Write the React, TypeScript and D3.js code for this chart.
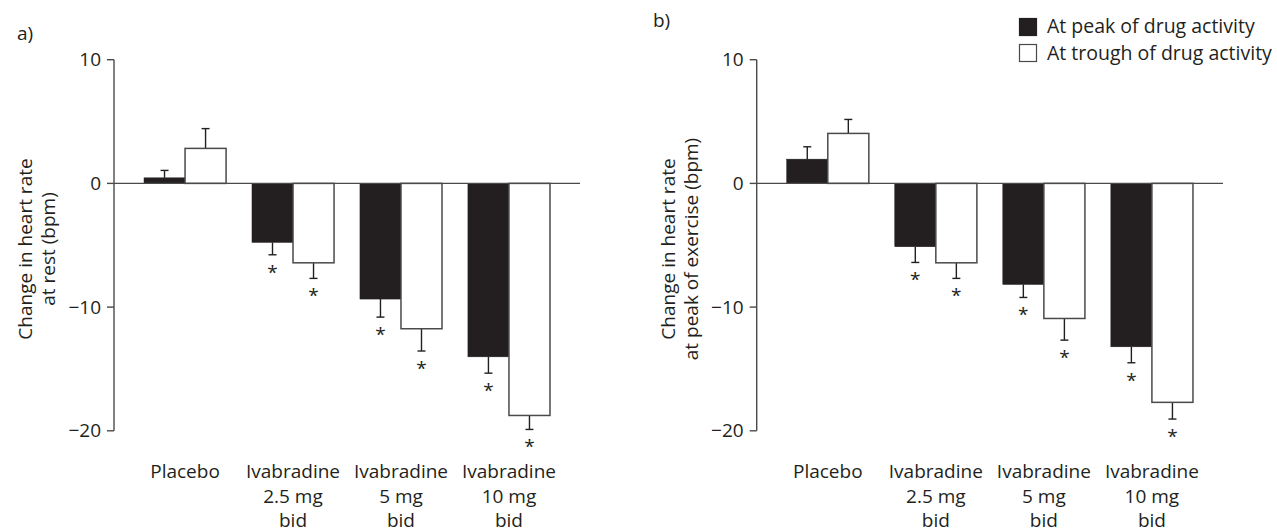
import React from "react";
import * as d3 from "d3";

const categories = ["Placebo", "Iva 2.5", "Iva 5", "Iva 10"];
const categoryLabels = [
  ["Placebo"],
  ["Ivabradine", "2.5 mg", "bid"],
  ["Ivabradine", "5 mg", "bid"],
  ["Ivabradine", "10 mg", "bid"],
];
const seriesNames = ["At peak of drug activity", "At trough of drug activity"];

// Panel a: change in heart rate at rest
const restPeak = [0.45, -4.77, -9.35, -14.02];
const restPeakErr = [0.6, 1.0, 1.46, 1.32];
const restTrough = [2.83, -6.42, -11.75, -18.76];
const restTroughErr = [1.6, 1.26, 1.8, 1.13];

// Panel b: change in heart rate at peak of exercise
const exPeak = [1.96, -5.12, -8.17, -13.21];
const exPeakErr = [1.0, 1.27, 1.05, 1.29];
const exTrough = [4.04, -6.42, -10.92, -17.7];
const exTroughErr = [1.13, 1.26, 1.75, 1.35];

const significant = [false, true, true, true];
const yTicks = [10, 0, -10, -20];

const FONT = "'Open Sans', sans-serif";
const INK = "#231f20";
const AXIS = "#4a4a4a";

const y = d3.scaleLinear().domain([-20, 10]).range([430.8, 59.7]);

function fmt(v: number) {
  return v < 0 ? "\u2212" + Math.abs(v) : String(v);
}

type PanelProps = {
  axisX: number;
  endX: number;
  letter: string;
  letterX: number;
  letterY: number;
  title: string[];
  peak: number[];
  peakErr: number[];
  trough: number[];
  troughErr: number[];
};

function Panel(p: PanelProps) {
  const x = d3
    .scaleBand<string>()
    .domain(categories)
    .range([p.axisX, p.endX])
    .paddingInner(0.24)
    .paddingOuter(0.278);
  const sub = d3
    .scaleBand<number>()
    .domain([0, 1])
    .range([0, x.bandwidth()]);
  const series = [
    { vals: p.peak, errs: p.peakErr, fill: INK },
    { vals: p.trough, errs: p.troughErr, fill: "#fff" },
  ];
  const y0 = y(0);
  const titleCY = 249;
  return (
    <g>
      <text x={p.letterX} y={p.letterY} fontFamily={FONT} fontSize={19} fill={INK}>
        {p.letter}
      </text>
      {/* y axis title */}
      <text
        transform={`translate(${p.axisX - 82},${titleCY}) rotate(-90)`}
        textAnchor="middle"
        fontFamily={FONT}
        fontSize={19}
        fill={INK}
      >
        <tspan x={0} dy={0}>{p.title[0]}</tspan>
        <tspan x={0} dy={23}>{p.title[1]}</tspan>
      </text>
      {/* y axis */}
      <line x1={p.axisX} x2={p.axisX} y1={y(10)} y2={y(-20)} stroke={AXIS} strokeWidth={1.4} />
      {yTicks.map((t) => (
        <g key={t}>
          <line x1={p.axisX - 7} x2={p.axisX} y1={y(t)} y2={y(t)} stroke={AXIS} strokeWidth={1.4} />
          <text
            x={p.axisX - 13}
            y={y(t)}
            dy="0.35em"
            textAnchor="end"
            fontFamily={FONT}
            fontSize={19}
            fill={INK}
          >
            {fmt(t)}
          </text>
        </g>
      ))}
      {/* bars */}
      {categories.map((c, i) => (
        <g key={c}>
          {series.map((s, si) => {
            const v = s.vals[i];
            const bx = (x(c) as number) + (sub(si) as number);
            const bw = sub.bandwidth();
            const top = Math.min(y(v), y0);
            const h = Math.abs(y(v) - y0);
            const ev = v >= 0 ? v + s.errs[i] : v - s.errs[i];
            const cx = bx + bw / 2;
            return (
              <g key={si}>
                <line x1={cx} x2={cx} y1={y(v)} y2={y(ev)} stroke={INK} strokeWidth={1.4} />
                <line x1={cx - 4} x2={cx + 4} y1={y(ev)} y2={y(ev)} stroke={INK} strokeWidth={1.4} />
                <rect
                  x={bx}
                  y={top}
                  width={bw}
                  height={h}
                  fill={s.fill}
                  stroke={si === 0 ? INK : "#4a4a4a"}
                  strokeWidth={si === 0 ? 0.5 : 1.5}
                />
                {significant[i] && (
                  <text
                    x={cx}
                    y={y(ev) + 24}
                    textAnchor="middle"
                    fontFamily={FONT}
                    fontSize={19}
                    fill={INK}
                  >
                    *
                  </text>
                )}
              </g>
            );
          })}
          {categoryLabels[i].map((ln, li) => (
            <text
              key={li}
              x={(x(c) as number) + x.bandwidth() / 2}
              y={478 + li * 24.5}
              textAnchor="middle"
              fontFamily={FONT}
              fontSize={19}
              fill={INK}
            >
              {ln}
            </text>
          ))}
        </g>
      ))}
      {/* zero line */}
      <line x1={p.axisX} x2={p.endX} y1={y0} y2={y0} stroke={AXIS} strokeWidth={1.4} />
    </g>
  );
}

export default function App() {
  return (
    <svg
      width={1277}
      height={532}
      style={{ position: "absolute", left: 0, top: 0, display: "block", background: "#fff" }}
    >
      <Panel
        axisX={114}
        endX={580}
        letter="a)"
        letterX={17}
        letterY={40}
        title={["Change in heart rate", "at rest (bpm)"]}
        peak={restPeak}
        peakErr={restPeakErr}
        trough={restTrough}
        troughErr={restTroughErr}
      />
      <Panel
        axisX={756.7}
        endX={1223}
        letter="b)"
        letterX={653}
        letterY={27}
        title={["Change in heart rate", "at peak of exercise (bpm)"]}
        peak={exPeak}
        peakErr={exPeakErr}
        trough={exTrough}
        troughErr={exTroughErr}
      />
      {/* legend */}
      {seriesNames.map((n, i) => (
        <g key={n}>
          <rect
            x={1019.5}
            y={18.5 + i * 26}
            width={17}
            height={17}
            fill={i === 0 ? INK : "#fff"}
            stroke={i === 0 ? INK : "#4a4a4a"}
            strokeWidth={1.2}
          />
          <text x={1047} y={33 + i * 27} fontFamily={FONT} fontSize={19.5} fill={INK}>
            {n}
          </text>
        </g>
      ))}
    </svg>
  );
}
